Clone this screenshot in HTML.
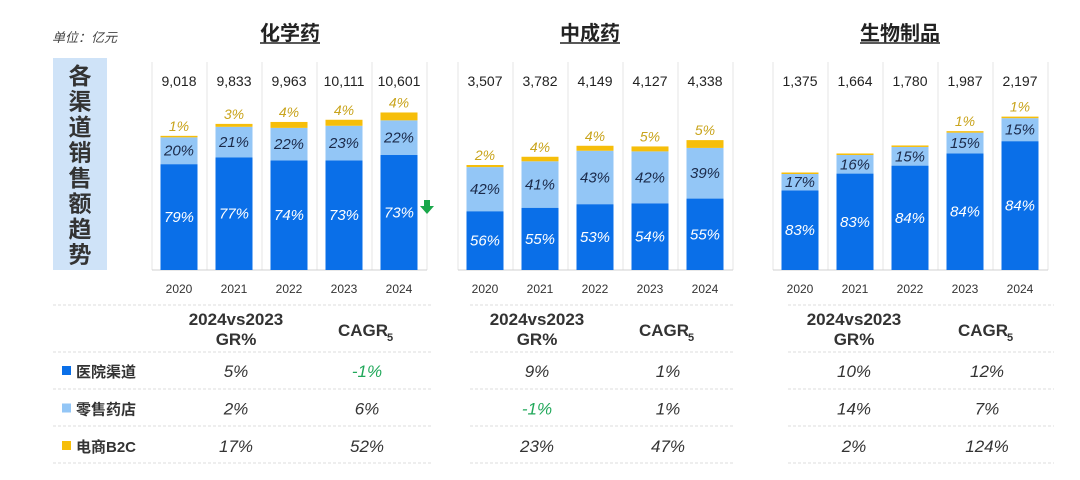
<!DOCTYPE html>
<html><head><meta charset="utf-8">
<style>
body{margin:0;width:1080px;height:480px;background:#fff;overflow:hidden;font-family:"Liberation Sans","Noto Sans CJK SC",sans-serif;}
svg{display:block}
</style></head>
<body>
<svg id="chart" width="1080" height="480" font-family="Liberation Sans, Noto Sans CJK SC, sans-serif"></svg>
<script>
const years = ["2020","2021","2022","2023","2024"];
const titles = ["化学药","中成药","生物制品"];
const totals1 = [9018,9833,9963,10111,10601];
const totals2 = [3507,3782,4149,4127,4338];
const totals3 = [1375,1664,1780,1987,2197];
const hosp1 = [79,77,74,73,73], retail1 = [20,21,22,23,22], b2c1 = [1,3,4,4,4];
const hosp2 = [56,55,53,54,55], retail2 = [42,41,43,42,39], b2c2 = [2,4,4,5,5];
const hosp3 = [83,83,84,84,84], retail3 = [17,16,15,15,15], b2c3 = [0,0,0,1,1];
const b2cLabel3 = ["","","","1%","1%"];
const channels = ["医院渠道","零售药店","电商B2C"];
const gr1 = ["5%","2%","17%"], cagr1 = ["-1%","6%","52%"];
const gr2 = ["9%","-1%","23%"], cagr2 = ["1%","1%","47%"];
const gr3 = ["10%","14%","2%"], cagr3 = ["12%","7%","124%"];

const svg = document.getElementById('chart');
const NS = 'http://www.w3.org/2000/svg';
function mk(tag, attrs, text){const e=document.createElementNS(NS,tag);for(const k in attrs)e.setAttribute(k,attrs[k]);if(text!==undefined)e.textContent=text;svg.appendChild(e);return e;}

const C_DARK="#0a6fe8", C_LIGHT="#93c6f6", C_Y="#f6be0a";
const baseY=270;
const panels=[
 {x0:179, scale:134/9018, totals:totals1,h:hosp1,r:retail1,b:b2c1,bl:null,tx:290,gr:gr1,cagr:cagr1,gx:236,cx:367,lx0:53,lx1:431,sep0:152},
 {x0:485, scale:105/3507, totals:totals2,h:hosp2,r:retail2,b:b2c2,bl:null,tx:590,gr:gr2,cagr:cagr2,gx:537,cx:668,lx0:470,lx1:733,sep0:458},
 {x0:800, scale:96/1375, totals:totals3,h:hosp3,r:retail3,b:b2c3,bl:b2cLabel3,tx:900,gr:gr3,cagr:cagr3,gx:854,cx:987,lx0:788,lx1:1054,sep0:773}
];
const step=55, bw=37;

let e=mk('text',{x:52,y:42,'font-size':13,'font-style':'italic',fill:'#444'},'单位：亿元');

e=mk('rect',{x:53,y:58,width:54,height:212,fill:'#cfe3f8'});

"各渠道销售额趋势".split('').forEach((ch,i)=>{
 const t=mk('text',{x:80,y:84+i*25.5,'font-size':23,'font-weight':'bold','text-anchor':'middle',fill:'#333'},ch);
 
});

panels.forEach((p,pi)=>{
 const t=mk('text',{x:p.tx,y:40,'font-size':20,'font-weight':'bold','text-anchor':'middle',fill:'#222'},titles[pi]);
 
 const ul=mk('line',{x1:p.tx-30-(pi==2?10:0),x2:p.tx+30+(pi==2?10:0),y1:43,y2:43,stroke:'#222','stroke-width':1.5});
 
 for(let i=0;i<=5;i++){
  const l=mk('line',{x1:p.sep0+i*step,x2:p.sep0+i*step,y1:62,y2:270,stroke:'#e6e6e6','stroke-width':1});
  
 }
 const ax=mk('line',{x1:p.sep0,x2:p.sep0+5*step,y1:baseY,y2:baseY,stroke:'#d0d0d0'});
 
 years.forEach((yr,i)=>{
  const cx=p.x0+i*step, total=p.totals[i], H=total*p.scale;
  const hh=H*p.h[i]/100, rh=H*p.r[i]/100, bh=Math.max(H-hh-rh,1.5);
  const yH=baseY-hh, yR=yH-rh, yB=yR-bh;
  let r=mk('rect',{x:cx-bw/2,y:yH,width:bw,height:hh,fill:C_DARK});
  
  r=mk('rect',{x:cx-bw/2,y:yR,width:bw,height:rh,fill:C_LIGHT});
  
  r=mk('rect',{x:cx-bw/2,y:yB,width:bw,height:bh,fill:C_Y});
  
  let tx=mk('text',{x:cx,y:yH+hh/2+5,'font-size':15,'font-style':'italic','text-anchor':'middle',fill:'#fff'},p.h[i]+'%');
  
  tx=mk('text',{x:cx,y:yR+rh/2+5,'font-size':15,'font-style':'italic','text-anchor':'middle',fill:'#1b2a4a'},p.r[i]+'%');
  
  const bl=p.bl?p.bl[i]:p.b[i]+'%';
  if(bl){tx=mk('text',{x:cx,y:yB-5,'font-size':14,'font-style':'italic','text-anchor':'middle',fill:'#c9a41c'},bl);
  }
  tx=mk('text',{x:cx,y:86,'font-size':14,'text-anchor':'middle',fill:'#222'},total.toLocaleString('en-US'));
  
  tx=mk('text',{x:cx,y:293,'font-size':12,'text-anchor':'middle',fill:'#333'},yr);
  
 });
 [305,352,389,426,463].forEach(y=>{
  const l=mk('line',{x1:p.lx0,x2:p.lx1,y1:y,y2:y,stroke:'#dcdcdc','stroke-dasharray':'3,2'});
  
 });
 let h=mk('text',{x:p.gx,y:325,'font-size':17,'font-weight':'bold','text-anchor':'middle',fill:'#333'},'2024vs2023');
 
 h=mk('text',{x:p.gx,y:345,'font-size':17,'font-weight':'bold','text-anchor':'middle',fill:'#333'},'GR%');
 
 h=mk('text',{x:p.cx-4,y:336,'font-size':17,'font-weight':'bold','text-anchor':'middle',fill:'#333'},'CAGR');
 
 h=mk('text',{x:p.cx+20,y:341,'font-size':11,'font-weight':'bold',fill:'#333'},'5');
 
 [0,1,2].forEach(j=>{
  const y=377+j*37.5;
  let v=mk('text',{x:p.gx,y:y,'font-size':17,'font-style':'italic','text-anchor':'middle',fill:p.gr[j][0]=='-'?'#21a85a':'#333'},p.gr[j]);
  
  v=mk('text',{x:p.cx,y:y,'font-size':17,'font-style':'italic','text-anchor':'middle',fill:p.cagr[j][0]=='-'?'#21a85a':'#333'},p.cagr[j]);
  
 });
});
[C_DARK,C_LIGHT,C_Y].forEach((c,j)=>{
 const y=377+j*37.5;
 let r=mk('rect',{x:62,y:y-11,width:9,height:9,fill:c});
 
 let t=mk('text',{x:76,y:y,'font-size':15,'font-weight':'bold',fill:'#333'},channels[j]);
 
});
let a=mk('path',{d:'M424 200 h6 v6 h4 l-7 8 l-7 -8 h4 z',fill:'#1aa74a'});

</script>
</body></html>
